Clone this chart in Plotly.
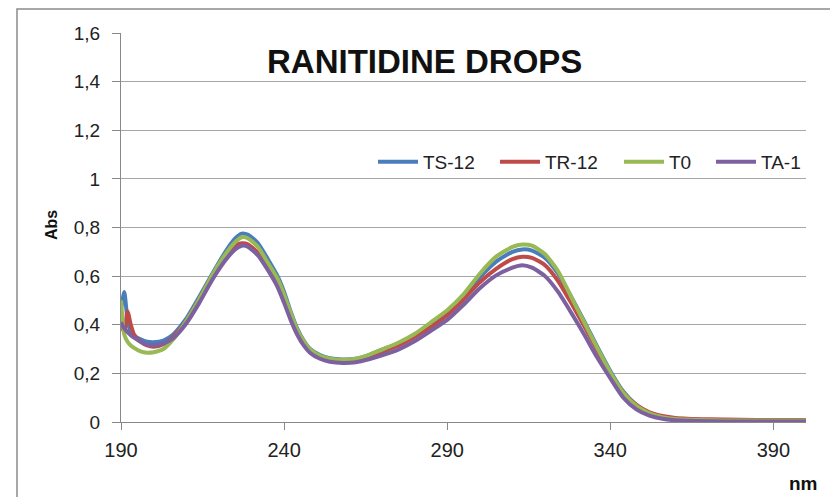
import plotly.graph_objects as go

wavelength = [190, 191, 192, 193, 194, 196, 198, 200, 203, 206, 208, 210, 214, 218, 222, 225, 227, 229,
              232, 235, 238, 240, 242, 244, 246, 248, 251, 254, 258, 262, 266, 270, 275, 280, 285, 290,
              295, 300, 305, 310, 313, 316, 320, 324, 328, 332, 336, 340, 344, 348, 352, 356, 360, 370,
              380, 390, 400]

ts12 = [0.46, 0.535, 0.42, 0.37, 0.355, 0.34, 0.33, 0.328, 0.335, 0.36, 0.39, 0.425, 0.515, 0.61, 0.70,
        0.755, 0.775, 0.77, 0.735, 0.67, 0.60, 0.535, 0.455, 0.385, 0.335, 0.30, 0.275, 0.262, 0.257,
        0.26, 0.275, 0.298, 0.322, 0.357, 0.40, 0.45, 0.515, 0.595, 0.66, 0.70, 0.71, 0.705, 0.675,
        0.61, 0.515, 0.415, 0.31, 0.21, 0.125, 0.07, 0.037, 0.02, 0.012, 0.007, 0.005, 0.005, 0.005]

tr12 = [0.40, 0.37, 0.455, 0.40, 0.36, 0.33, 0.315, 0.31, 0.32, 0.35, 0.38, 0.415, 0.505, 0.60, 0.68,
        0.725, 0.735, 0.73, 0.695, 0.635, 0.57, 0.505, 0.43, 0.37, 0.325, 0.292, 0.267, 0.255, 0.25,
        0.253, 0.267, 0.288, 0.315, 0.35, 0.39, 0.44, 0.505, 0.575, 0.63, 0.67, 0.68, 0.675, 0.645,
        0.58, 0.49, 0.395, 0.295, 0.20, 0.12, 0.07, 0.04, 0.025, 0.017, 0.011, 0.009, 0.008, 0.008]

t0 = [0.50, 0.36, 0.33, 0.315, 0.305, 0.29, 0.285, 0.287, 0.30, 0.34, 0.375, 0.415, 0.505, 0.605, 0.69,
      0.74, 0.76, 0.755, 0.72, 0.655, 0.59, 0.525, 0.45, 0.38, 0.333, 0.298, 0.272, 0.26, 0.256,
      0.26, 0.276, 0.298, 0.326, 0.362, 0.41, 0.46, 0.525, 0.61, 0.68, 0.72, 0.73, 0.725, 0.69,
      0.62, 0.515, 0.41, 0.305, 0.205, 0.12, 0.066, 0.036, 0.02, 0.012, 0.007, 0.006, 0.006, 0.006]

ta1 = [0.41, 0.385, 0.37, 0.357, 0.347, 0.33, 0.318, 0.315, 0.322, 0.345, 0.372, 0.405, 0.49, 0.585, 0.665,
       0.71, 0.725, 0.72, 0.685, 0.625, 0.555, 0.49, 0.42, 0.36, 0.315, 0.284, 0.26, 0.248, 0.243,
       0.246, 0.258, 0.274, 0.298, 0.332, 0.375, 0.42, 0.482, 0.55, 0.603, 0.635, 0.645, 0.635, 0.60,
       0.535, 0.45, 0.36, 0.265, 0.18, 0.10, 0.052, 0.026, 0.013, 0.007, 0.003, 0.002, 0.002, 0.002]

series_names = ["TS-12", "TR-12", "T0", "TA-1"]
series_values = [ts12, tr12, t0, ta1]
colors = ["#4a7ebb", "#be4b48", "#98b954", "#7d60a0"]
legend_widths = [67, 69, 37, 45]

fig = go.Figure()
for name, vals, col, lw in zip(series_names, series_values, colors, legend_widths):
    fig.add_trace(go.Scatter(x=wavelength, y=vals, mode="lines", name=name, legendwidth=lw,
                             line=dict(color=col, width=4, shape="spline", smoothing=0.6)))

# page body has an 8px margin, so the figure sits at (8, 8) in the window
OFF = 8
W, H = 838 - OFF, 497 - OFF
L, R, T, B = 121, 806, 33, 422          # plot area in window pixels
pw, ph = R - L, B - T

def px(x):
    return (x - L) / pw

def py(y):
    return (B - y) / ph

FONT = "Liberation Sans, Arial, sans-serif"

fig.update_layout(
    width=W, height=H,
    margin=dict(l=L - OFF, r=W - (R - OFF), t=T - OFF, b=H - (B - OFF), pad=0, autoexpand=False),
    paper_bgcolor="white", plot_bgcolor="white",
    separators=",.",
    font=dict(family=FONT, size=19, color="#222"),
    showlegend=True,
    legend=dict(orientation="h", x=px(373), y=py(162), xanchor="left", yanchor="middle",
                bgcolor="rgba(0,0,0,0)", font=dict(size=19, color="#222"),
                itemwidth=40, tracegroupgap=0, borderwidth=0),
    xaxis=dict(range=[190, 400], tick0=190, dtick=50, showgrid=False, zeroline=False,
               showline=True, linecolor="#888", linewidth=1, automargin=False,
               ticks="outside", ticklen=7, tickcolor="#888", ticklabelstandoff=3,
               tickfont=dict(size=20, color="#222")),
    yaxis=dict(range=[0, 1.6], tick0=0, dtick=0.2, showgrid=True, gridcolor="#a6a6a6", gridwidth=1,
               zeroline=False, showline=True, linecolor="#888", linewidth=1, automargin=False,
               ticks="outside", ticklen=8, tickcolor="#888",
               tickfont=dict(size=19, color="#222"), ticklabelstandoff=8),
)

fig.add_annotation(text="<b>RANITIDINE DROPS</b>", xref="paper", yref="paper",
                   x=px(424), y=py(61), xanchor="center", yanchor="middle", showarrow=False,
                   font=dict(size=33, color="#111", family=FONT))
fig.add_annotation(text="<b>Abs</b>", xref="paper", yref="paper", textangle=-90,
                   x=px(51), y=py(225), xanchor="center", yanchor="middle", showarrow=False,
                   font=dict(size=16, color="#111", family=FONT))
fig.add_annotation(text="<b>nm</b>", xref="paper", yref="paper",
                   x=px(803), y=py(483), xanchor="center", yanchor="middle", showarrow=False,
                   font=dict(size=19, color="#111", family=FONT))

fig.add_shape(type="rect", xref="paper", yref="paper",
              x0=px(17), x1=px(833), y0=py(510), y1=py(9),
              line=dict(color="#8c8c8c", width=1.5), fillcolor="rgba(0,0,0,0)", layer="below")

fig.write_html("out.html")
